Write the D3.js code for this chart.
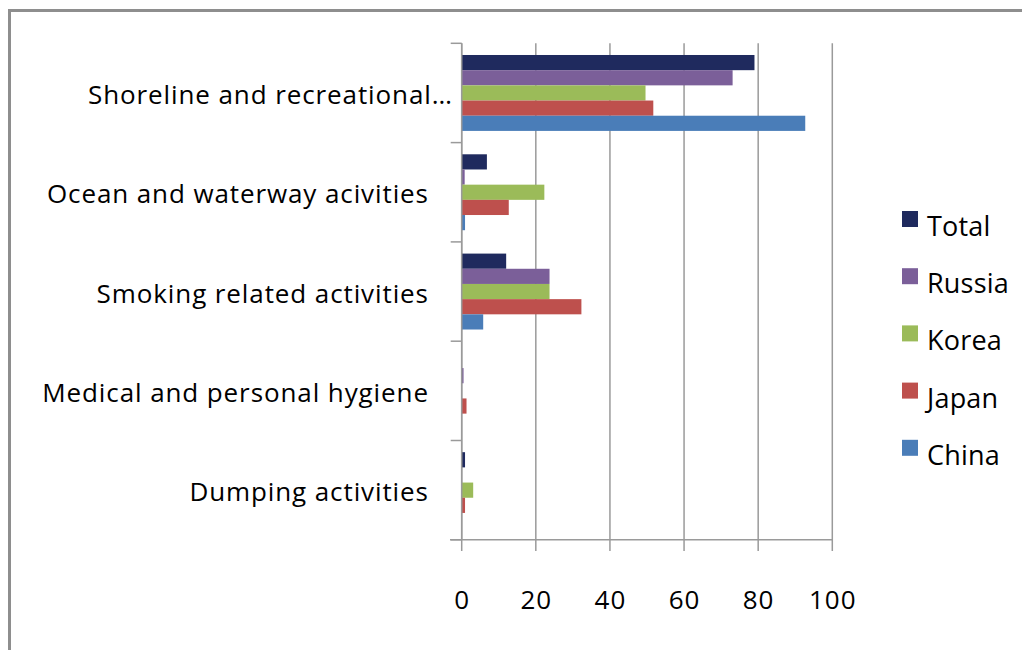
<!DOCTYPE html>
<html>
<head>
<meta charset="utf-8">
<script src="https://cdn.jsdelivr.net/npm/d3@7"></script>
<style>
  html, body { margin: 0; padding: 0; background: #fff; }
  svg { display: block; }
  text { font-family: "Open Sans", "Noto Sans", sans-serif; fill: #000; }
</style>
</head>
<body>
<svg id="chart" width="1022" height="650"></svg>
<script>
const categories = [
  "Shoreline and recreational…",
  "Ocean and waterway acivities",
  "Smoking related activities",
  "Medical and personal hygiene",
  "Dumping activities"
];
const seriesNames = ["Total", "Russia", "Korea", "Japan", "China"];
const seriesColors = ["#1f2a5e", "#7b5f99", "#9bbb59", "#be504d", "#4a7db8"];
const totalValues  = [79.0, 6.8, 12.0, 0.0, 0.9];
const russiaValues = [73.1, 0.8, 23.7, 0.5, 0.0];
const koreaValues  = [49.6, 22.3, 23.7, 0.0, 3.1];
const japanValues  = [51.7, 12.7, 32.3, 1.3, 0.9];
const chinaValues  = [92.7, 0.9, 5.8, 0.0, 0.0];
const xTicks = [0, 20, 40, 60, 80, 100];

const seriesValues = [totalValues, russiaValues, koreaValues, japanValues, chinaValues];

const svg = d3.select("#chart");
const FS = 26;
const LS = 0.9;
const gray = "#9a9a9a";

// frame
svg.append("line").attr("x1", 8).attr("x2", 1022).attr("y1", 10.5).attr("y2", 10.5)
  .attr("stroke", "#8e8e8e").attr("stroke-width", 3);
svg.append("line").attr("x1", 9.5).attr("x2", 9.5).attr("y1", 9).attr("y2", 650)
  .attr("stroke", "#8e8e8e").attr("stroke-width", 3);

const x = d3.scaleLinear().domain([0, 100]).range([461.7, 832.3]);
const y = d3.scaleBand().domain(categories).range([43.3, 539.8]).padding(0);
const ySub = d3.scaleBand().domain(seriesNames).range([0, y.bandwidth()])
  .paddingInner(0).paddingOuter(0.77);

// gridlines
svg.append("g").selectAll("line").data(xTicks).join("line")
  .attr("x1", d => x(d)).attr("x2", d => x(d))
  .attr("y1", 43.3).attr("y2", 551)
  .attr("stroke", gray).attr("stroke-width", 1.5);

// bars
const rows = [];
categories.forEach((c, ci) => {
  seriesNames.forEach((s, si) => {
    rows.push({ c, s, si, v: seriesValues[si][ci] });
  });
});
svg.append("g").selectAll("rect").data(rows.filter(d => d.v > 0)).join("rect")
  .attr("x", x(0))
  .attr("y", d => y(d.c) + ySub(d.s))
  .attr("width", d => x(d.v) - x(0))
  .attr("height", ySub.bandwidth())
  .attr("fill", d => seriesColors[d.si]);

// y axis
const gy = svg.append("g").attr("transform", `translate(${x(0)},0)`);
gy.append("line").attr("x1", 0).attr("x2", 0).attr("y1", 43.3).attr("y2", 539.8)
  .attr("stroke", gray).attr("stroke-width", 1.5);
const boundaries = categories.map(c => y(c)).concat([y.range()[1]]);
gy.selectAll("line.tk").data(boundaries).join("line").attr("class", "tk")
  .attr("x1", -11).attr("x2", 0).attr("y1", d => d).attr("y2", d => d)
  .attr("stroke", gray).attr("stroke-width", 1.5);

// category labels
svg.append("g").selectAll("text").data(categories).join("text")
  .attr("x", d => (d.endsWith("…") ? 452 : 428) + LS)
  .attr("y", d => y(d) + y.bandwidth() / 2 + 11)
  .attr("text-anchor", "end")
  .attr("font-size", FS)
  .attr("letter-spacing", LS)
  .text(d => d);

// x axis
svg.append("line").attr("x1", 450).attr("x2", x(100)).attr("y1", 539.8).attr("y2", 539.8)
  .attr("stroke", gray).attr("stroke-width", 1.5);
svg.append("g").selectAll("text").data(xTicks).join("text")
  .attr("x", d => x(d) + LS / 2).attr("y", 609)
  .attr("text-anchor", "middle")
  .attr("font-size", FS)
  .attr("letter-spacing", LS)
  .text(d => d);

// legend
const lg = svg.append("g");
seriesNames.forEach((s, i) => {
  const cy = 219 + i * 57.2;
  lg.append("rect").attr("x", 902).attr("y", cy - 8).attr("width", 16).attr("height", 16)
    .attr("fill", seriesColors[i]);
  lg.append("text").attr("x", 927).attr("y", cy + 17).attr("font-size", 27)
    .attr("letter-spacing", 0.2).text(s);
});
</script>
</body>
</html>
